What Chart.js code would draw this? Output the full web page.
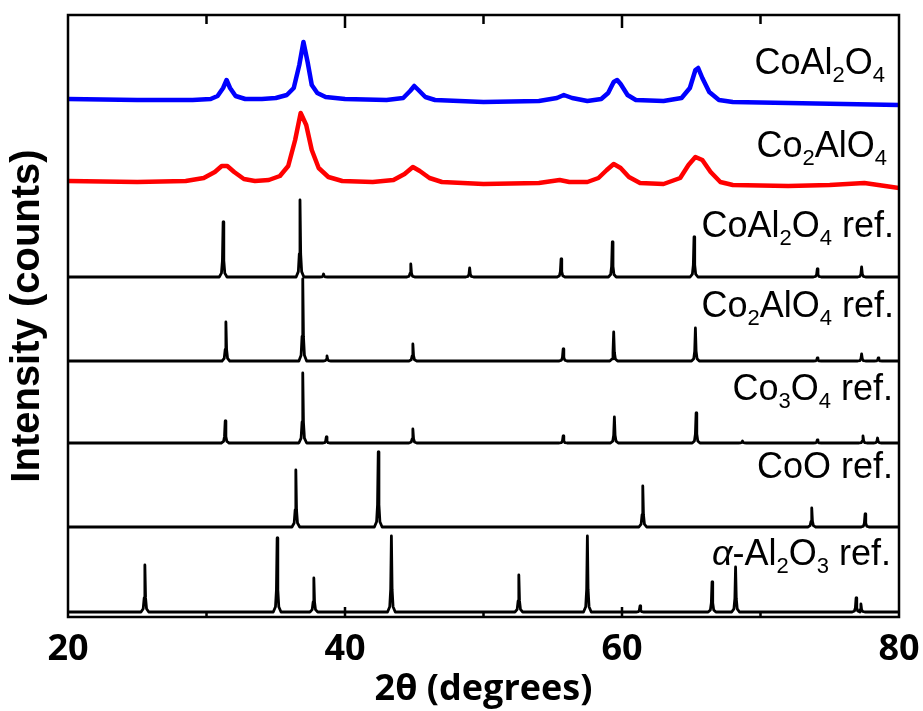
<!DOCTYPE html>
<html>
<head>
<meta charset="utf-8">
<title>XRD patterns</title>
<script src="https://cdn.jsdelivr.net/npm/chart.js@4.4.1/dist/chart.umd.min.js"></script>
<style>
  html, body { margin: 0; padding: 0; background: #fff; }
  canvas { display: block; }
</style>
</head>
<body>
<canvas id="xrd" width="923" height="711"></canvas>
<script>
// measured samples: 2theta (deg) and stacked intensity (a.u.)
const cobaltAluminateTheta = [20, 25, 29, 30.3, 30.8, 31.2, 31.45, 31.7, 32.1, 32.8, 34, 35, 35.8, 36.3, 36.7, 37.0, 37.3, 37.6, 38.0, 38.6, 40, 43, 44.2, 44.7, 45.0, 45.3, 45.8, 46.5, 50, 54, 55.3, 55.8, 56.4, 57.5, 58.5, 59.0, 59.4, 59.65, 59.9, 60.4, 61, 63, 64.3, 64.9, 65.3, 65.5, 65.8, 66.3, 67, 68, 72, 76, 80];
const cobaltAluminateCounts = [518, 517, 517, 518, 521, 529, 537, 529, 521, 518, 518, 519, 522, 529, 552, 575, 555, 532, 524, 520, 518, 517, 519, 526, 531, 527, 520, 517, 515, 516, 519, 522, 519, 516, 518, 524, 535, 537, 533, 522, 517, 516, 519, 529, 547, 549, 539, 525, 517, 515, 514, 513, 512];

const dicobaltAluminateTheta = [20, 25, 28.5, 29.8, 30.6, 31.1, 31.5, 32.0, 32.7, 33.5, 34.5, 35.3, 35.9, 36.4, 36.8, 37.2, 37.6, 38.1, 38.8, 39.8, 42, 43.5, 44.3, 44.9, 45.4, 46.1, 47, 50, 54, 55.5, 56.2, 57.5, 58.3, 58.9, 59.4, 59.9, 60.5, 61.3, 63, 64.2, 64.8, 65.3, 65.8, 66.4, 67.1, 68, 72, 75, 77.5, 79, 80];
const dicobaltAluminateCounts = [436, 435, 436, 439, 445, 451, 451, 445, 438, 436, 437, 441, 451, 477, 504, 492, 467, 449, 440, 436, 435, 437, 443, 450, 446, 439, 435, 433, 434, 437, 435, 435, 439, 447, 453, 449, 440, 434, 433, 439, 452, 460, 457, 445, 435, 432, 431, 432, 434, 431, 429];

// reference patterns: peak positions (deg) and peak heights above each baseline
const refOffsets = [340, 256, 174, 90, 5];

const coal2o4RefPos = [31.2, 36.75, 38.45, 44.75, 49.0, 55.6, 59.3, 65.2, 74.1, 77.3];
const coal2o4RefInt = [55, 77, 3, 13, 9, 18, 35, 40, 8, 10];

const co2alo4RefPos = [31.4, 36.95, 38.7, 44.9, 55.75, 59.4, 65.3, 74.1, 77.3, 78.5];
const co2alo4RefInt = [39, 82, 5, 17, 12, 29, 33, 3, 7, 3];

const co3o4RefPos = [31.35, 36.95, 38.65, 44.9, 55.75, 59.45, 65.35, 68.7, 74.1, 77.4, 78.45];
const co3o4RefInt = [22, 70, 6, 14, 7, 26, 30, 2, 3, 7, 5];

const cooRefPos = [36.45, 42.4, 61.5, 73.7, 77.55];
const cooRefInt = [57, 75, 41, 19, 13];

const al2o3RefPos = [25.55, 35.1, 37.75, 43.35, 52.55, 57.5, 61.3, 66.5, 68.2, 76.9, 77.25];
const al2o3RefInt = [47, 74, 34, 76, 37, 76, 6, 30, 45, 14, 8];

const sampleLabels = ["CoAl_2O_4", "Co_2AlO_4"];
const refLabels = ["CoAl_2O_4 ref.", "Co_2AlO_4 ref.", "Co_3O_4 ref.", "CoO ref.", "α-Al_2O_3 ref."];

const xMinor = [30, 40, 50, 60, 70];

// narrow peak profile used for the stick patterns
const peakShape = [[-0.28, 0], [-0.12, 0.07], [-0.05, 0.3], [0, 1], [0.05, 0.3], [0.12, 0.07], [0.28, 0]];

function buildPattern(pos, heights, offset) {
    const pts = [{ x: 20, y: offset }];
    let lastX = 20;
    pos.forEach((p, i) => {
        peakShape.forEach(([dx, f]) => {
            const x = p + dx;
            if (x <= lastX) return;
            pts.push({ x: x, y: offset + f * heights[i] });
            lastX = x;
        });
    });
    pts.push({ x: 80, y: offset });
    return pts;
}

function zip(xs, ys) {
    return xs.map((x, i) => ({ x: x, y: ys[i] }));
}

const refPos = [coal2o4RefPos, co2alo4RefPos, co3o4RefPos, cooRefPos, al2o3RefPos];
const refInt = [coal2o4RefInt, co2alo4RefInt, co3o4RefInt, cooRefInt, al2o3RefInt];

const datasets = [
    { label: sampleLabels[0], data: zip(cobaltAluminateTheta, cobaltAluminateCounts), borderColor: "#0000ff", borderWidth: 4.5 },
    { label: sampleLabels[1], data: zip(dicobaltAluminateTheta, dicobaltAluminateCounts), borderColor: "#ff0000", borderWidth: 4.5 },
];
refLabels.forEach((name, i) => {
    datasets.push({ label: name, data: buildPattern(refPos[i], refInt[i], refOffsets[i]), borderColor: "#000", borderWidth: 2.8 });
});

// label baselines (in y units) for each trace, top to bottom
const labelY = [543, 460, 380, 300, 217, 139, 52];
const labelInset = [14, 12, 5, 5, 6, 6, 8];

function drawFormula(ctx, str, xRight, yBase) {
    const parts = [];
    for (let i = 0; i < str.length; i++) {
        if (str[i] === "_") {
            parts.push({ t: str[i + 1], sub: true });
            i++;
        } else if (str[i] === "α") {
            parts.push({ t: "α", it: true });
        } else {
            const last = parts[parts.length - 1];
            if (last && !last.sub && !last.it) last.t += str[i];
            else parts.push({ t: str[i] });
        }
    }
    const fontOf = (p) => (p.it ? "italic " : "") + (p.sub ? "22px" : "36px") + " 'Liberation Sans', Arial, sans-serif";
    let total = 0;
    parts.forEach((p) => {
        ctx.font = fontOf(p);
        p.w = ctx.measureText(p.t).width;
        total += p.w;
    });
    let x = xRight - total;
    parts.forEach((p) => {
        ctx.font = fontOf(p);
        ctx.fillText(p.t, x, yBase + (p.sub ? 8 : 0));
        x += p.w;
    });
}

const frameTicks = {
    id: "frameTicks",
    afterDatasetsDraw(chart) {
        const { ctx, chartArea: a, scales } = chart;
        ctx.save();
        ctx.strokeStyle = "#000";
        ctx.lineWidth = 2.5;
        ctx.strokeRect(a.left, a.top, a.right - a.left, a.bottom - a.top);
        ctx.beginPath();
        xMinor.forEach((v) => {
            const px = scales.x.getPixelForValue(v);
            const major = v % 20 === 0;
            ctx.moveTo(px, a.top);
            ctx.lineTo(px, a.top + (major ? 13 : 9));
            ctx.moveTo(px, a.bottom);
            ctx.lineTo(px, a.bottom - (major ? 10 : 6));
        });
        ctx.stroke();

        ctx.fillStyle = "#000";
        ctx.textBaseline = "alphabetic";
        ctx.textAlign = "left";
        sampleLabels.concat(refLabels).forEach((lab, i) => {
            drawFormula(ctx, lab, a.right - labelInset[i], scales.y.getPixelForValue(labelY[i]));
        });
        ctx.restore();
    },
};

new Chart(document.getElementById("xrd"), {
    type: "line",
    data: { datasets: datasets },
    options: {
        responsive: false,
        animation: false,
        devicePixelRatio: 1,
        layout: { padding: { top: 15, right: 24, bottom: 0, left: 0 } },
        plugins: { legend: { display: false }, tooltip: { enabled: false } },
        elements: { point: { radius: 0 }, line: { tension: 0, borderJoinStyle: "round" } },
        scales: {
            x: {
                type: "linear",
                min: 20,
                max: 80,
                afterFit: (s) => {
                    s.height = 94;
                    s.paddingLeft = 20;
                    s.paddingRight = 20;
                },
                grid: { display: false, drawTicks: false },
                border: { display: false },
                ticks: { stepSize: 20, padding: 11, color: "#000", font: { family: "'Open Sans', sans-serif", weight: "bold", size: 36 } },
                title: { display: true, text: "2θ (degrees)", color: "#000", padding: { top: 0, bottom: 0 }, font: { family: "'Open Sans', sans-serif", weight: "bold", size: 36 } },
            },
            y: {
                min: 0,
                max: 602,
                afterFit: (s) => { s.width = 68; },
                grid: { display: false },
                border: { display: false },
                ticks: { display: false },
                title: { display: true, text: "Intensity (counts)", color: "#000", padding: { top: 4, bottom: 0 }, font: { family: "'Liberation Sans', Arial, sans-serif", weight: "bold", size: 40 } },
            },
        },
    },
    plugins: [frameTicks],
});
</script>
</body>
</html>
